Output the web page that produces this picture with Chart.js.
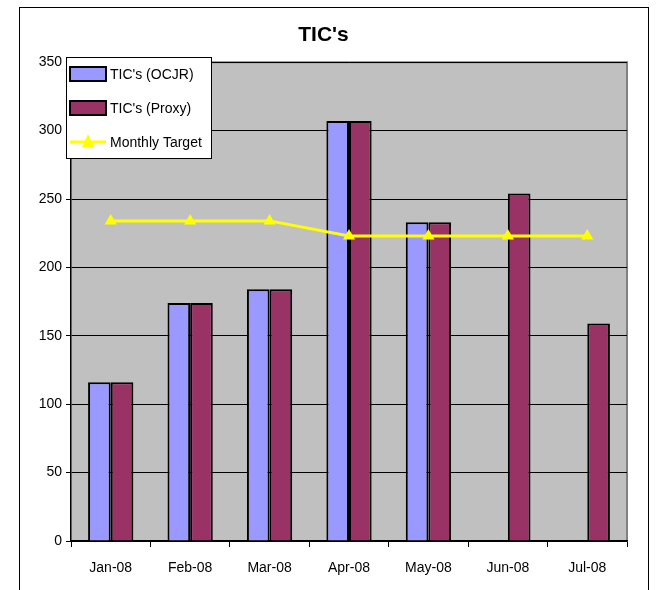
<!DOCTYPE html>
<html>
<head>
<meta charset="utf-8">
<script src="https://cdn.jsdelivr.net/npm/chart.js@4/dist/chart.umd.min.js"></script>
<style>
  body { margin: 0; background: #fff; }
  #wrap { width: 667px; height: 590px; }
</style>
</head>
<body>
<div id="wrap"><canvas id="chartTic" width="667" height="590"></canvas></div>
<script>
// data
let months = ['Jan-08', 'Feb-08', 'Mar-08', 'Apr-08', 'May-08', 'Jun-08', 'Jul-08'];
let ticOcjr = [116, 174, 184, 307, 233, null, null];
let ticProxy = [116, 174, 184, 307, 233, 254, 159];
let monthlyTarget = [234, 234, 234, 223, 223, 223, 223];
let yTicks = [0, 50, 100, 150, 200, 250, 300, 350];

let fontName = '"Liberation Sans", Arial, sans-serif';

// frame + gray plot area
let backdrop = {
  id: 'backdrop',
  beforeDraw(chart) {
    let ctx = chart.ctx;
    let a = chart.chartArea;
    ctx.save();
    ctx.fillStyle = '#fff';
    ctx.fillRect(0, 0, chart.width, chart.height);
    ctx.strokeStyle = '#000';
    ctx.lineWidth = 1;
    ctx.strokeRect(19.5, 7.5, 629, 620);
    ctx.fillStyle = '#C0C0C0';
    ctx.fillRect(a.left, a.top, a.right - a.left, a.bottom - a.top);
    ctx.strokeStyle = '#808080';
    ctx.lineWidth = 2;
    ctx.beginPath();
    ctx.moveTo(a.left, a.top);
    ctx.lineTo(a.right, a.top);
    ctx.lineTo(a.right, a.bottom);
    ctx.stroke();
    ctx.restore();
  }
};

// legend box floating over the plot (bars first, then the target line)
let boxLegend = {
  id: 'boxLegend',
  afterDraw(chart) {
    let ctx = chart.ctx;
    ctx.save();
    ctx.fillStyle = '#fff';
    ctx.fillRect(66, 57, 145, 101);
    ctx.strokeStyle = '#000';
    ctx.lineWidth = 1;
    ctx.strokeRect(66.5, 57.5, 145, 101);
    ctx.font = '14px ' + fontName;
    ctx.textBaseline = 'middle';
    let rows = [74, 108, 142];
    let order = [1, 2, 0];
    order.forEach(function(idx, i) {
      let ds = chart.data.datasets[idx];
      let y = rows[i];
      if (ds.type === 'line') {
        ctx.strokeStyle = ds.borderColor;
        ctx.lineWidth = 3;
        ctx.beginPath();
        ctx.moveTo(70, y);
        ctx.lineTo(106, y);
        ctx.stroke();
        ctx.fillStyle = ds.borderColor;
        ctx.beginPath();
        ctx.moveTo(88, y - 8);
        ctx.lineTo(94, y + 5);
        ctx.lineTo(82, y + 5);
        ctx.closePath();
        ctx.fill();
      } else {
        ctx.fillStyle = ds.backgroundColor;
        ctx.fillRect(70, y - 7, 36, 14);
        ctx.strokeStyle = '#000';
        ctx.lineWidth = 2;
        ctx.strokeRect(70, y - 7, 36, 14);
      }
      ctx.fillStyle = '#000';
      ctx.fillText(ds.label, 110, y + 1);
    });
    ctx.restore();
  }
};

let tic = document.getElementById('chartTic').getContext('2d');

let chartTic = new Chart(tic, {
  data: {
    labels: months,
    datasets: [{
      type: 'line',
      label: 'Monthly Target',
      data: monthlyTarget,
      borderColor: '#FFFF00',
      backgroundColor: '#FFFF00',
      borderWidth: 3,
      pointStyle: 'triangle',
      pointRadius: 7,
      pointBorderWidth: 0,
      order: 0
    }, {
      type: 'bar',
      label: "TIC's (OCJR)",
      data: ticOcjr,
      backgroundColor: '#9999FF',
      borderColor: '#000',
      borderWidth: 2,
      categoryPercentage: 0.57,
      barPercentage: 1.0,
      order: 1
    }, {
      type: 'bar',
      label: "TIC's (Proxy)",
      data: ticProxy,
      backgroundColor: '#993366',
      borderColor: '#000',
      borderWidth: 2,
      categoryPercentage: 0.57,
      barPercentage: 1.0,
      order: 1
    }]
  },
  options: {
    responsive: false,
    animation: false,
    layout: { padding: { left: 20, right: 40, top: 0, bottom: 0 } },
    plugins: {
      legend: { display: false },
      tooltip: { enabled: false },
      title: {
        display: true,
        text: "TIC's",
        color: '#000',
        font: { family: fontName, size: 21, weight: 'bold' },
        padding: { top: 23, bottom: 14 }
      }
    },
    scales: {
      x: {
        offset: true,
        grid: { drawOnChartArea: false, drawTicks: true, tickLength: 6, color: '#000', lineWidth: 1 },
        border: { color: '#000', width: 1.5 },
        ticks: { color: '#000', font: { family: fontName, size: 14 }, padding: 13, maxRotation: 0 },
        afterFit(scale) { scale.height = 49; }
      },
      y: {
        min: 0,
        max: 350,
        afterBuildTicks(scale) { scale.ticks = yTicks.map(function(v) { return { value: v }; }); },
        grid: { color: '#000', lineWidth: 1, tickLength: 5 },
        border: { color: '#000', width: 1.5 },
        ticks: { color: '#000', font: { family: fontName, size: 14 }, padding: 4 },
        afterFit(scale) { scale.width = 51; }
      }
    }
  },
  plugins: [backdrop, boxLegend]
});
</script>
</body>
</html>
